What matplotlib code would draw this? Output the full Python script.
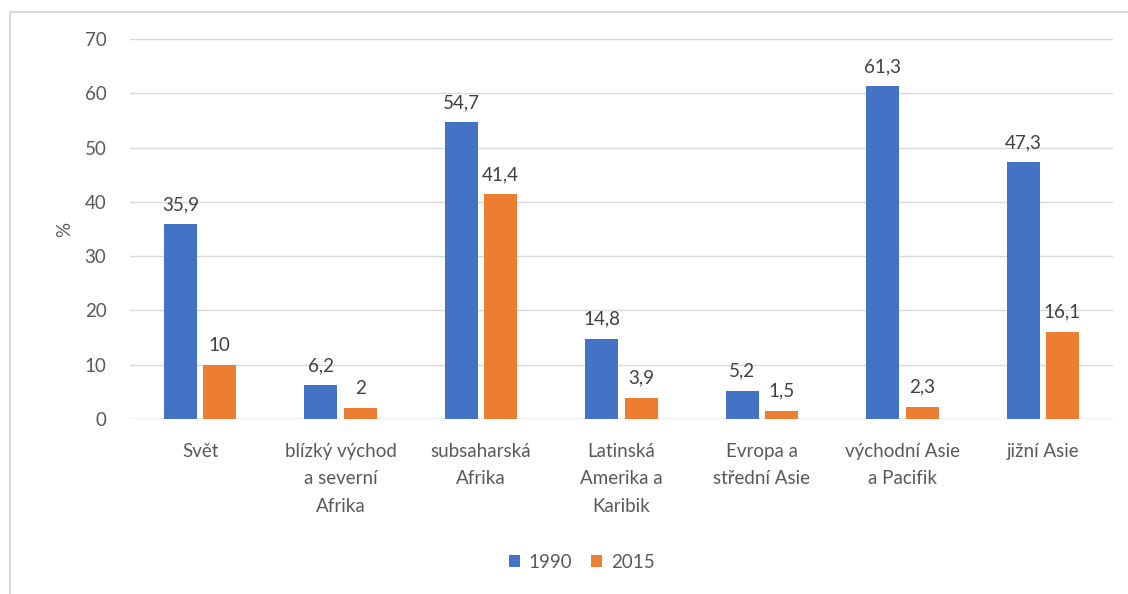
import matplotlib
matplotlib.use("Agg")
import matplotlib.pyplot as plt
import matplotlib.patches as mpatches
import numpy as np

categories = ["Svět", "blízký východ\na severní\nAfrika", "subsaharská\nAfrika",
              "Latinská\nAmerika a\nKaribik", "Evropa a\nstřední Asie",
              "východní Asie\na Pacifik", "jižní Asie"]
v1990 = [35.9, 6.2, 54.7, 14.8, 5.2, 61.3, 47.3]
v2015 = [10, 2, 41.4, 3.9, 1.5, 2.3, 16.1]
series_names = ["1990", "2015"]
yticks = [0, 10, 20, 30, 40, 50, 60, 70]

def fmt(v):
    s = ("%g" % v)
    return s.replace(".", ",")

plt.rcParams['font.family'] = ['Lato', 'DejaVu Sans']
txt = "#595959"
fs = 13.5
fig = plt.figure(figsize=(11.28, 5.94), dpi=100)
ax = fig.add_axes([130/1128, 1-419/594, (1113-130)/1128, (419-39)/594])

# outer chart border
fig.patches.append(mpatches.Rectangle((10/1128, -0.1), 1.2, 1-12/594+0.1,
                   transform=fig.transFigure, fill=False, edgecolor="#D9D9D9", lw=1.5))

x = np.arange(len(categories))
w = 0.235
b1 = ax.bar(x - 0.14, v1990, w, color="#4472C4", label=series_names[0], zorder=3)
b2 = ax.bar(x + 0.14, v2015, w, color="#ED7D31", label=series_names[1], zorder=3)
for bars, vals in ((b1, v1990), (b2, v2015)):
    for r, v in zip(bars, vals):
        ax.annotate(fmt(v), (r.get_x() + r.get_width()/2, v), xytext=(0, 8),
                    textcoords="offset points", ha="center", va="bottom",
                    fontsize=fs, color="#404040")

ax.set_xlim(-0.5, len(categories) - 0.5)
ax.set_ylim(0, 70)
ax.set_yticks(yticks)
ax.set_yticklabels([str(t) for t in yticks])
ax.set_xticks(x)
ax.set_xticklabels(categories, linespacing=1.75)
ax.tick_params(axis="both", length=0, labelsize=fs, labelcolor=txt)
ax.tick_params(axis="y", pad=17)
ax.tick_params(axis="x", pad=17)
ax.grid(axis="y", color="#D9D9D9", lw=1, zorder=0)
for s in ax.spines.values():
    s.set_visible(False)
ax.axhline(0, color="#D9D9D9", lw=1, zorder=2)
ax.set_ylabel("%", fontsize=fs, color=txt, labelpad=8)

leg = fig.legend(handles=[b1, b2], labels=series_names, loc="center",
                 bbox_to_anchor=(582/1128, 1-562/594), ncol=2, frameon=False,
                 fontsize=fs, handlelength=0.55, handleheight=0.55,
                 handletextpad=0.5, columnspacing=1.0)
for t in leg.get_texts():
    t.set_color(txt)

fig.savefig("out.png", dpi=100)
